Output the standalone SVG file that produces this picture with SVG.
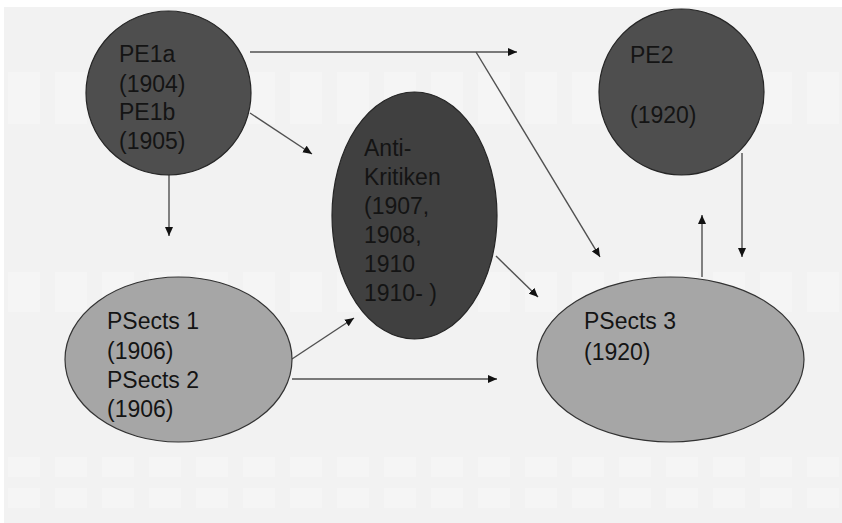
<svg xmlns="http://www.w3.org/2000/svg" width="842" height="523" viewBox="0 0 842 523">
<defs>
<style>
.dark{fill:#4e4e4e;stroke:#262626;stroke-width:1.2}
.darker{fill:#404040;stroke:#262626;stroke-width:1.2}
.light{fill:#a6a6a6;stroke:#333;stroke-width:1.2}
.t{font-family:"Liberation Sans",Arial,sans-serif;font-size:23px;fill:#141414}
.c{stroke:#505050;stroke-width:1.4;fill:none;marker-end:url(#ah)}
.band{fill:#f5f5f5}
</style>
<marker id="ah" markerUnits="userSpaceOnUse" markerWidth="9" markerHeight="8" refX="9" refY="4" orient="auto">
<path d="M0,0 L9,4 L0,8 z" fill="#111"/>
</marker>
<pattern id="cells" x="0" y="0" width="47" height="200" patternUnits="userSpaceOnUse">
<rect x="8" y="0" width="32" height="200" class="band"/>
</pattern>
</defs>
<rect x="0" y="0" width="842" height="523" fill="#ffffff"/>
<rect x="4" y="7" width="838" height="516" fill="#f2f2f2"/>
<rect x="4" y="72" width="838" height="52" fill="url(#cells)"/>
<rect x="4" y="272" width="838" height="40" fill="url(#cells)"/>
<rect x="4" y="457" width="838" height="20" fill="url(#cells)"/>
<rect x="4" y="488" width="838" height="20" fill="url(#cells)"/>
<g id="connectors">
<line class="c" x1="250" y1="52" x2="517" y2="52"/>
<line class="c" x1="476" y1="52" x2="600" y2="257"/>
<line class="c" x1="250" y1="113" x2="312" y2="154"/>
<line class="c" x1="169" y1="175" x2="169" y2="236"/>
<line class="c" x1="496" y1="256" x2="538" y2="297"/>
<line class="c" x1="292" y1="359" x2="354" y2="318"/>
<line class="c" x1="292" y1="379" x2="497" y2="379"/>
<line class="c" x1="702" y1="277" x2="702" y2="215"/>
<line class="c" x1="742" y1="153" x2="742" y2="257"/>
</g>
<g id="pe1">
<ellipse class="dark" cx="168.5" cy="93" rx="82.5" ry="82"/>
<text class="t"><tspan x="119" y="62">PE1a</tspan><tspan x="119" y="92">(1904)</tspan><tspan x="119" y="120">PE1b</tspan><tspan x="119" y="149">(1905)</tspan></text>
</g>
<g id="pe2">
<ellipse class="dark" cx="681.5" cy="92" rx="82.5" ry="83"/>
<text class="t"><tspan x="630" y="63">PE2</tspan><tspan x="630" y="123">(1920)</tspan></text>
</g>
<g id="antikritiken">
<ellipse class="darker" cx="414.5" cy="215.5" rx="82.5" ry="123.5"/>
<text class="t"><tspan x="364" y="156">Anti-</tspan><tspan x="364" y="185">Kritiken</tspan><tspan x="364" y="214">(1907,</tspan><tspan x="364" y="243">1908,</tspan><tspan x="364" y="272">1910</tspan><tspan x="364" y="301">1910- )</tspan></text>
</g>
<g id="psects12">
<ellipse class="light" cx="178.5" cy="359.5" rx="113.5" ry="82.5"/>
<text class="t"><tspan x="107" y="329">PSects 1</tspan><tspan x="107" y="359">(1906)</tspan><tspan x="107" y="388">PSects 2</tspan><tspan x="107" y="417">(1906)</tspan></text>
</g>
<g id="psects3">
<ellipse class="light" cx="670.5" cy="359.5" rx="133.5" ry="82.5"/>
<text class="t"><tspan x="584" y="329">PSects 3</tspan><tspan x="584" y="360">(1920)</tspan></text>
</g>
</svg>
